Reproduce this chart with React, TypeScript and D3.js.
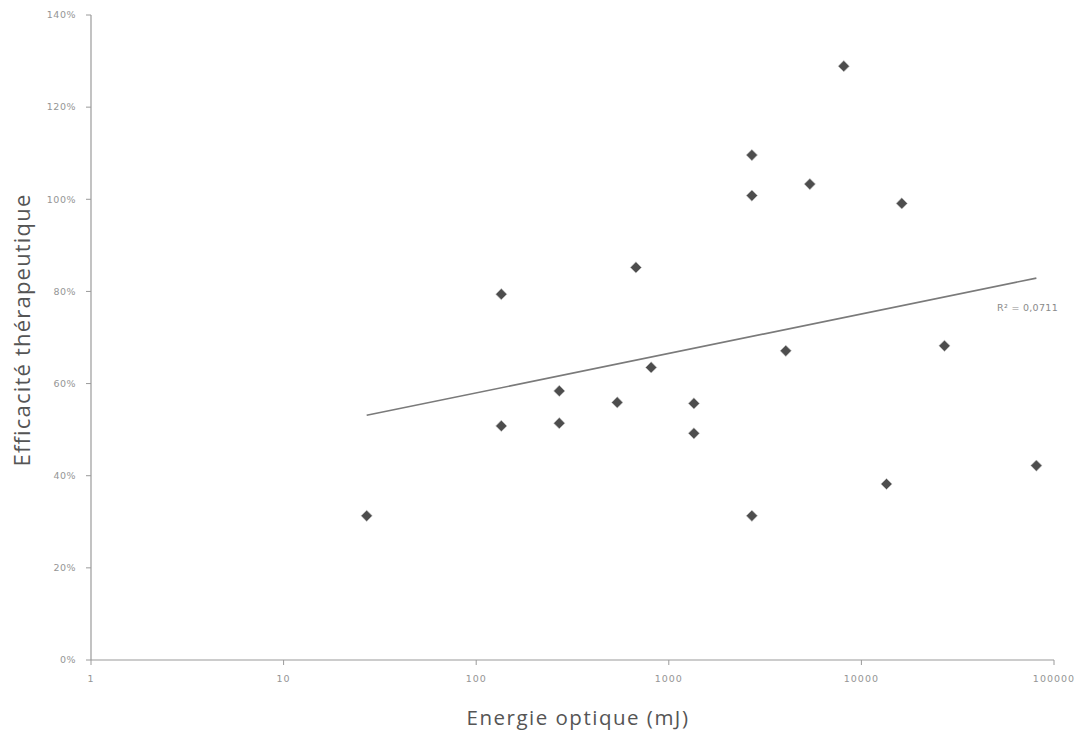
import React from "react";
import * as d3 from "d3";

// Energie optique (mJ)
const energy: number[] = [27, 135, 135, 270, 270, 540, 675, 810, 1350, 1350, 2700, 2700, 2700, 4050, 5400, 8100, 13500, 16200, 27000, 81000];
// Efficacité thérapeutique (%)
const efficacy: number[] = [31.3, 79.4, 50.8, 58.4, 51.4, 55.9, 85.2, 63.5, 55.7, 49.2, 109.6, 100.8, 31.3, 67.1, 103.3, 128.9, 38.2, 99.1, 68.2, 42.2];

const xTicks: number[] = [1, 10, 100, 1000, 10000, 100000];
const yTicks: number[] = [0, 20, 40, 60, 80, 100, 120, 140];
const r2Label = "R² = 0,0711";

const W = 1085;
const H = 735;
const tickFont = "'DejaVu Sans', sans-serif";
const titleFont = "'Open Sans', sans-serif";

export default function App() {
  const x = d3.scaleLog().domain([1, 100000]).range([91, 1054]);
  const y = d3.scaleLinear().domain([0, 140]).range([660, 15]);

  // logarithmic trendline (y = a ln x + b), fitted by least squares
  const lx = energy.map((e) => Math.log(e));
  const mx = d3.mean(lx) as number;
  const my = d3.mean(efficacy) as number;
  let sxy = 0, sxx = 0;
  lx.forEach((v, i) => {
    sxy += (v - mx) * (efficacy[i] - my);
    sxx += (v - mx) * (v - mx);
  });
  const a = sxy / sxx;
  const b = my - a * mx;
  const xMin = d3.min(energy) as number;
  const xMax = d3.max(energy) as number;
  const trend = [xMin, xMax].map((e) => [x(e), y(a * Math.log(e) + b)] as [number, number]);
  const line = d3.line();

  const diamond = d3.symbol().type(d3.symbolDiamond2).size(80)() as string;

  return (
    <svg width={W} height={H} style={{ position: "absolute", left: 0, top: 0, background: "#fff" }}>
      <rect x={0} y={0} width={W} height={H} fill="#fff" />
      {/* axes */}
      <line x1={x(1)} x2={x(1)} y1={y(140)} y2={y(0)} stroke="#9a9a9a" strokeWidth={1.2} />
      <line x1={x(1)} x2={x(100000)} y1={y(0)} y2={y(0)} stroke="#9a9a9a" strokeWidth={1.2} />
      {yTicks.map((t) => (
        <g key={"y" + t}>
          <line x1={x(1) - 5} x2={x(1)} y1={y(t)} y2={y(t)} stroke="#9a9a9a" />
          <text x={76} y={y(t)} dy="0.35em" textAnchor="end" fontFamily={tickFont} fontSize={9.5} letterSpacing={0.5} fill="#959595">
            {t + "%"}
          </text>
        </g>
      ))}
      {xTicks.map((t) => (
        <g key={"x" + t}>
          <line x1={x(t)} x2={x(t)} y1={y(0)} y2={y(0) + 5} stroke="#9a9a9a" />
          <text x={x(t)} y={679} dy="0.35em" textAnchor="middle" fontFamily={tickFont} fontSize={9.5} letterSpacing={1} fill="#959595">
            {String(t)}
          </text>
        </g>
      ))}
      {/* trendline */}
      <path d={line(trend) as string} stroke="#7a7a7a" strokeWidth={1.6} fill="none" />
      <text x={1058} y={308} dy="0.35em" textAnchor="end" fontFamily={tickFont} fontSize={9.5} letterSpacing={0.3} fill="#8a8a8a">
        {r2Label}
      </text>
      {/* points */}
      {energy.map((e, i) => (
        <path key={i} d={diamond} transform={`translate(${x(e)},${y(efficacy[i])})`} fill="#4d4d4d" stroke="#c8c8c8" strokeWidth={0.6} />
      ))}
      {/* titles */}
      <text x={578} y={718} dy="0.35em" textAnchor="middle" fontFamily={titleFont} fontSize={20.5} letterSpacing={1.5} fill="#555">
        Energie optique (mJ)
      </text>
      <text transform={`translate(22,330) rotate(-90)`} dy="0.35em" textAnchor="middle" fontFamily={titleFont} fontSize={22} letterSpacing={1.2} fill="#555">
        Efficacité thérapeutique
      </text>
    </svg>
  );
}
